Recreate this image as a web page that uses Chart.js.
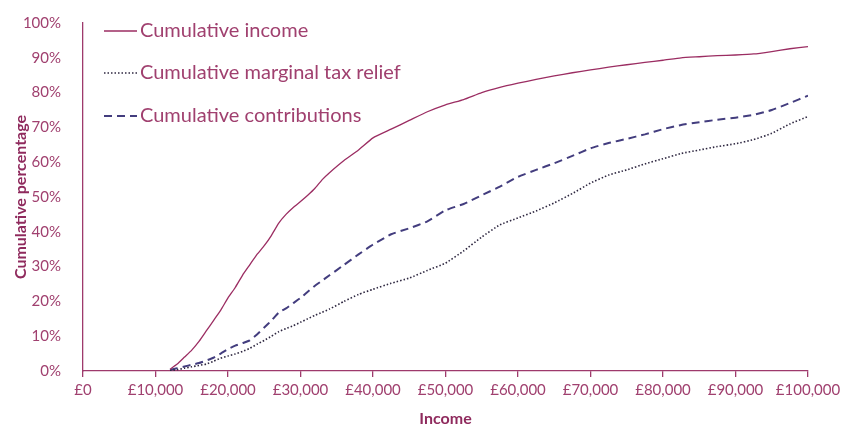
<!DOCTYPE html>
<html>
<head>
<title>Cumulative income and tax relief</title>
<script src="https://cdn.jsdelivr.net/npm/chart.js@4/dist/chart.umd.min.js"></script>
<style>
body { margin:0; background:#ffffff; }
#wrap { width:856px; height:425px; }
</style>
</head>
<body>
<div id="wrap"><canvas id="myChart" width="856" height="425"></canvas></div>
<script>
// income points (GBP) shared by all three series
var incomes = [12000,13000,14000,15000,16000,17000,18000,19000,20000,21000,22000,23000,24000,25000,
  26000,27000,28000,29000,30000,31000,32000,33000,34000,36000,38000,40000,42500,45000,47500,50000,
  52500,55000,57500,60000,62500,65000,67500,70000,72500,75000,77500,80000,82500,85000,87500,
  90000,92500,95000,97500,100000];
var cumIncome = [0.5,2,4,6,8.5,11.5,14.5,17.5,21,24,27.5,30.5,33.5,36,39,42.5,45,47,48.7,50.5,52.5,55,57,
  60.5,63.5,67,69.5,72,74.5,76.5,78,80,81.5,82.7,83.8,84.8,85.7,86.5,87.3,88,88.7,89.3,90,90.3,90.6,
  90.8,91.1,91.8,92.6,93.2];
var cumTaxRelief = [0.1,0.4,0.8,1.2,1.6,2,2.8,3.7,4.3,4.9,5.6,6.5,7.7,8.8,10,11.3,12.2,13,14,15,16,16.9,17.8,
  20,22,23.5,25.2,26.7,28.9,31,34.5,38.5,42,44,46,48.3,51,54,56.3,57.8,59.5,61,62.5,63.5,64.5,
  65.3,66.5,68.3,71,73.1];
var cumContrib = [0.3,0.8,1.3,1.8,2.3,3,3.8,5,6.3,7.3,8,8.8,10.5,12.5,14.5,16.8,18,19.5,21,22.8,24.5,26,27.5,
  30.5,33.5,36.3,39.3,41,43,46.2,48,50.5,53,55.8,57.8,59.7,61.8,64,65.5,66.7,68,69.5,70.7,71.5,72.2,
  72.8,73.6,75,77,79.1];
var seriesNames = ['Cumulative income','Cumulative marginal tax relief','Cumulative contributions'];

var plum = '#9e3a6c';
var textCol = '#a0406f';
var titleCol = '#8f2a5d';

function pts(vals) {
  return incomes.map(function(x, i) { return { x: x, y: vals[i] }; });
}

// draw the legend inside the plot, top-left
var legendInside = {
  id: 'legendInside',
  afterDraw: function(chart) {
    var ctx = chart.ctx;
    var rows = [31, 73, 116];
    ctx.save();
    chart.data.datasets.forEach(function(ds, i) {
      var y = rows[i];
      ctx.beginPath();
      ctx.strokeStyle = ds.borderColor;
      ctx.lineWidth = ds.borderWidth;
      ctx.setLineDash(ds.borderDash || []);
      ctx.moveTo(104, y);
      ctx.lineTo(137, y);
      ctx.stroke();
      ctx.setLineDash([]);
      ctx.fillStyle = textCol;
      ctx.font = '20px Lato';
      ctx.textBaseline = 'middle';
      ctx.textAlign = 'left';
      ctx.fillText(ds.label, 140, y);
    });
    ctx.restore();
  }
};

var ctx = document.getElementById('myChart').getContext('2d');
var chart = new Chart(ctx, {
  type: 'line',
  data: {
    datasets: [
      { label: seriesNames[0], data: pts(cumIncome), borderColor: '#9b2d62', borderWidth: 1.3, pointRadius: 0, tension: 0.15 },
      { label: seriesNames[1], data: pts(cumTaxRelief), borderColor: '#2e2740', borderWidth: 1.6, borderDash: [1.5, 2], pointRadius: 0, tension: 0.15 },
      { label: seriesNames[2], data: pts(cumContrib), borderColor: '#433d7e', borderWidth: 2, borderDash: [8, 5], pointRadius: 0, tension: 0.15 }
    ]
  },
  options: {
    responsive: false,
    animation: false,
    layout: { padding: { top: 20, right: 48, left: 0, bottom: 0 } },
    plugins: { legend: { display: false }, tooltip: { enabled: false } },
    scales: {
      x: {
        type: 'linear',
        min: 0, max: 100000,
        afterFit: function(s) { s.height = 54; },
        border: { color: plum, width: 1.3 },
        grid: { display: true, drawOnChartArea: false, drawTicks: true, tickLength: 6, color: plum, lineWidth: 1.3 },
        ticks: {
          stepSize: 10000, color: textCol, font: { family: 'Lato', size: 15 }, padding: 4, maxRotation: 0,
          callback: function(v) { return '£' + v.toLocaleString('en-GB'); }
        },
        title: { display: true, text: 'Income', color: titleCol, font: { family: 'Lato', size: 16, weight: 'bold' }, padding: { top: 0, bottom: -3 } }
      },
      y: {
        min: 0, max: 100,
        afterFit: function(s) { s.width = 83; },
        border: { color: plum, width: 1.3 },
        grid: { display: false },
        ticks: {
          stepSize: 10, color: textCol, font: { family: 'Lato', size: 15 }, padding: 14,
          callback: function(v) { return v + '%'; }
        },
        title: { display: true, text: 'Cumulative percentage', color: titleCol, font: { family: 'Lato', size: 16, weight: 'bold' }, padding: { top: 11, bottom: 0 } }
      }
    }
  },
  plugins: [legendInside]
});
</script>
</body>
</html>
